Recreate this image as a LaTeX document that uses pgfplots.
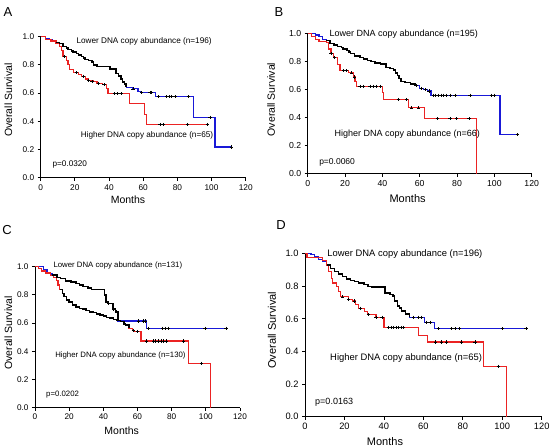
\documentclass[border=0pt]{standalone}
\usepackage{fontspec}
\setmainfont{Liberation Sans}
\usepackage{pgfplots}
\pgfplotsset{compat=1.18}
\usepackage{pgfplotstable}

\definecolor{kmblue}{RGB}{25,25,215}
\definecolor{kmred}{RGB}{235,35,35}

% ---------- Panel A ----------
\pgfplotstableread{
x y
0 1
3 0.99
5 0.98
7 0.97
9 0.96
11 0.95
13 0.93
15 0.92
16 0.91
18 0.90
19 0.89
21 0.88
22 0.87
24 0.86
25 0.85
26 0.84
28 0.83
30 0.82
31 0.80
33 0.787
40.5 0.77
44 0.74
45.5 0.72
47 0.70
48 0.68
49 0.665
50 0.64
54 0.63
57 0.61
59 0.605
67 0.574
89.3 0.428
102 0.218
112 0.218
}\Alow
\pgfplotstableread{
x y
0 1
3 0.98
6 0.97
9 0.95
11 0.93
12 0.90
13 0.86
15 0.83
16 0.80
17 0.77
19 0.745
22 0.73
24 0.72
26 0.70
28 0.69
31 0.68
33 0.67
36 0.66
38.5 0.63
39.4 0.595
52 0.525
60.7 0.45
62 0.378
97.5 0.378
}\Ahigh
\pgfplotstableread{
x y
54 0.63
59 0.605
64 0.605
65 0.605
68.8 0.574
73.8 0.574
75.3 0.574
76.7 0.574
78.6 0.574
86.4 0.574
99.1 0.428
111.8 0.218
}\Alowc
\pgfplotstableread{
x y
14 0.86
21 0.745
25 0.72
28 0.69
30 0.68
34 0.67
37 0.66
43 0.595
45 0.595
47 0.595
69.8 0.378
71.8 0.378
86 0.378
97.5 0.378
}\Ahighc

% ---------- Panel B ----------
\pgfplotstableread{
x y
0 1
4 0.99
6 0.98
8 0.96
10 0.95
12 0.93
14 0.92
16 0.91
18 0.90
19 0.89
21 0.88
22 0.87
23 0.86
25 0.84
28 0.83
30 0.82
32 0.81
34 0.80
36 0.79
39 0.785
42 0.76
44 0.75
46 0.74
47 0.72
48 0.70
49 0.68
50 0.66
52 0.65
55 0.64
57.5 0.63
60 0.61
62 0.60
64 0.59
66.1 0.56
103 0.279
112.5 0.279
}\Blow
\pgfplotstableread{
x y
0 1
2 0.98
4 0.96
6 0.945
10 0.935
11 0.89
12.5 0.86
13.7 0.83
16 0.78
17.3 0.736
21.8 0.72
24.4 0.69
25.3 0.66
26.2 0.624
40 0.58
40.5 0.53
54 0.47
62.5 0.393
90.5 0
}\Bhigh
\pgfplotstableread{
x y
58 0.63
61 0.61
63 0.60
65 0.59
67.3 0.56
68.6 0.56
70 0.56
71.4 0.56
72.7 0.56
74.5 0.56
76.3 0.56
78.9 0.56
86.9 0.56
98.6 0.56
100 0.56
112.5 0.279
}\Blowc
\pgfplotstableread{
x y
12.5 0.86
14.3 0.83
19 0.736
20.6 0.736
23.5 0.72
25 0.69
28 0.624
29.8 0.624
33.4 0.624
35.2 0.624
37 0.624
38.9 0.624
48.5 0.53
53 0.53
55.7 0.47
59.3 0.47
69.6 0.393
76.2 0.393
79.8 0.393
86.4 0.393
}\Bhighc

% ---------- Panel C ----------
\pgfplotstableread{
x y
0 1
5 0.98
7 0.953
10 0.94
13 0.925
15 0.915
18 0.90
21 0.89
24 0.88
26 0.87
28 0.86
31 0.85
33 0.84
40.8 0.80
41.5 0.75
43 0.74
45.7 0.70
47 0.68
48.6 0.615
65.4 0.563
112 0.563
}\Clow
\pgfplotstableread{
x y
0 1
2 0.985
4 0.97
6 0.955
9 0.94
11 0.925
12.5 0.90
13.5 0.87
14.5 0.84
16 0.81
17 0.79
18.5 0.765
20 0.75
22 0.73
24 0.715
26 0.705
28 0.70
30 0.69
32 0.68
34 0.674
36 0.665
38 0.657
40 0.65
42 0.641
44 0.635
46 0.627
48 0.62
50 0.61
52 0.595
53 0.587
55 0.563
57 0.55
58 0.54
62 0.473
89.8 0.315
102.5 0
}\Chigh
\pgfplotstableread{
x y
43 0.74
46 0.70
47.5 0.68
60.5 0.615
63.4 0.615
64.5 0.615
66.3 0.563
74.7 0.563
76.1 0.563
78 0.563
99.5 0.563
111.8 0.563
}\Clowc
\pgfplotstableread{
x y
57.5 0.55
60 0.54
65.4 0.473
69.3 0.473
70.7 0.473
72.2 0.473
73.8 0.473
75.1 0.473
77.1 0.473
86.8 0.473
97.6 0.315
}\Chighc

% ---------- Panel D ----------
\pgfplotstableread{
x y
0 1
3 0.995
5 0.98
7 0.965
9 0.95
11 0.93
13 0.91
15 0.89
17 0.875
19 0.86
21 0.845
23 0.835
25 0.83
27 0.82
30 0.81
32 0.80
34 0.795
40.5 0.76
43 0.75
44.5 0.74
45.5 0.71
47 0.68
48 0.667
49 0.647
51 0.63
53 0.61
60.5 0.58
65.6 0.54
112 0.54
}\Dlow
\pgfplotstableread{
x y
0 1
1 0.975
9 0.96
11 0.93
12 0.89
13.5 0.85
14 0.82
16 0.80
17 0.77
18 0.735
22 0.72
24 0.71
25.5 0.69
27 0.665
30 0.645
31.5 0.626
36 0.61
40 0.548
57.5 0.50
62 0.458
90.4 0.31
102.3 0
}\Dhigh
\pgfplotstableread{
x y
55 0.61
57.4 0.61
59.2 0.61
61.7 0.58
63.4 0.58
67.6 0.54
74.4 0.54
76 0.54
78.2 0.54
100 0.54
112 0.54
}\Dlowc
\pgfplotstableread{
x y
19 0.735
22 0.72
25 0.71
28 0.665
32 0.626
36 0.61
39 0.61
42.4 0.548
43.8 0.548
45 0.548
46.3 0.548
47.5 0.548
48.8 0.548
50 0.548
66.3 0.458
69.3 0.458
71.8 0.458
79.4 0.458
86.2 0.458
97.9 0.31
}\Dhighc

\pgfplotsset{
  km/.style={
    scale only axis, xmin=0, xmax=120, ymin=0, ymax=1,
    axis lines=left, axis line style={-, line width=0.9pt},
    xtick={0,20,40,60,80,100,120}, ytick={0,0.2,0.4,0.6,0.8,1.0},
    yticklabel style={/pgf/number format/.cd, fixed, fixed zerofill, precision=1},
    /pgf/number format/assume math mode=true,
    tick style={black, line width=0.8pt}, tick align=outside, major tick length=3pt,
    clip=false,
  },
  kmline/.style={const plot, line width=1.2pt, no marks},
  kmdense/.style={const plot, line width=1.5pt, no marks, black},
  kmcens/.style={only marks, mark=+, mark size=1.6pt, black, mark options={line width=0.7pt}},
}

\begin{document}
\begin{tikzpicture}
\useasboundingbox (0,0) rectangle (550pt,446pt);

% ===== A =====
\begin{axis}[km, at={(40.7pt,268.3pt)}, anchor=south west, width=205pt, height=141pt,
  ticklabel style={font=\fontsize{8.3}{9}\selectfont},
  xlabel={Months}, ylabel={Overall Survival},
  xlabel style={font=\fontsize{10.5}{12}\selectfont, at={(axis description cs:0.426,-0.158)}, anchor=center},
  ylabel style={font=\fontsize{10.5}{12}\selectfont, at={(axis description cs:-0.158,0.55)}, anchor=center},
]
\addplot[kmline, kmblue] table {\Alow};
\addplot[kmline, kmred] table {\Ahigh};
\addplot[kmdense, restrict x to domain=8:50] table {\Alow};
\addplot[kmcens] table {\Alowc};
\addplot[kmcens] table {\Ahighc};
\node[anchor=west, font=\fontsize{8.2}{10}\selectfont] at (axis cs:18.9,0.965) {Lower DNA copy abundance (n=196)};
\node[anchor=west, font=\fontsize{8.2}{10}\selectfont] at (axis cs:21.4,0.30) {Higher DNA copy abundance (n=65)};
\node[anchor=west, font=\fontsize{8.2}{10}\selectfont] at (axis cs:4.9,0.095) {p=0.0320};
\end{axis}

% ===== B =====
\begin{axis}[km, at={(307.7pt,272.3pt)}, anchor=south west, width=224pt, height=140pt,
  ticklabel style={font=\fontsize{8.7}{10}\selectfont},
  xlabel={Months}, ylabel={Overall Survival},
  xlabel style={font=\fontsize{11}{13}\selectfont, at={(axis description cs:0.446,-0.18)}, anchor=center},
  ylabel style={font=\fontsize{10.5}{12}\selectfont, at={(axis description cs:-0.163,0.53)}, anchor=center},
]
\addplot[kmline, kmblue] table {\Blow};
\addplot[kmline, kmred] table {\Bhigh};
\addplot[kmdense, restrict x to domain=9:58] table {\Blow};
\addplot[kmcens] table {\Blowc};
\addplot[kmcens] table {\Bhighc};
\node[anchor=west, font=\fontsize{9}{11}\selectfont] at (axis cs:9.8,1.0) {Lower DNA copy abundance (n=195)};
\node[anchor=west, font=\fontsize{9}{11}\selectfont] at (axis cs:12.5,0.284) {Higher DNA copy abundance (n=66)};
\node[anchor=west, font=\fontsize{8.5}{10}\selectfont] at (axis cs:4.3,0.084) {p=0.0060};
\end{axis}

% ===== C =====
\begin{axis}[km, at={(35pt,38.3pt)}, anchor=south west, width=205pt, height=141pt,
  ticklabel style={font=\fontsize{8.2}{9}\selectfont},
  xlabel={Months}, ylabel={Overall Survival},
  xlabel style={font=\fontsize{10.5}{12}\selectfont, at={(axis description cs:0.423,-0.163)}, anchor=center},
  ylabel style={font=\fontsize{10.5}{12}\selectfont, at={(axis description cs:-0.13,0.53)}, anchor=center},
]
\addplot[kmline, kmblue] table {\Clow};
\addplot[kmline, kmred] table {\Chigh};
\addplot[kmdense, restrict x to domain=8:48.6] table {\Clow};
\addplot[kmdense, restrict x to domain=14:55] table {\Chigh};
\addplot[kmcens] table {\Clowc};
\addplot[kmcens] table {\Chighc};
\node[anchor=west, font=\fontsize{7.8}{9}\selectfont] at (axis cs:8.8,1.01) {Lower DNA copy abundance (n=131)};
\node[anchor=west, font=\fontsize{7.8}{9}\selectfont] at (axis cs:9.8,0.37) {Higher DNA copy abundance (n=130)};
\node[anchor=west, font=\fontsize{7.8}{9}\selectfont] at (axis cs:4.5,0.095) {p=0.0202};
\end{axis}

% ===== D =====
\begin{axis}[km, at={(305pt,29.3pt)}, anchor=south west, width=236.7pt, height=163pt,
  ticklabel style={font=\fontsize{9.3}{10}\selectfont},
  xlabel={Months}, ylabel={Overall Survival},
  xlabel style={font=\fontsize{11}{13}\selectfont, at={(axis description cs:0.338,-0.15)}, anchor=center},
  ylabel style={font=\fontsize{11}{13}\selectfont, at={(axis description cs:-0.14,0.53)}, anchor=center},
]
\addplot[kmline, kmblue] table {\Dlow};
\addplot[kmline, kmred] table {\Dhigh};
\addplot[kmdense, restrict x to domain=10:53] table {\Dlow};
\addplot[kmcens] table {\Dlowc};
\addplot[kmcens] table {\Dhighc};
\node[anchor=west, font=\fontsize{9.4}{11}\selectfont] at (axis cs:9.6,1.0) {Lower DNA copy abundance (n=196)};
\node[anchor=west, font=\fontsize{9.4}{11}\selectfont] at (axis cs:11,0.36) {Higher DNA copy abundance (n=65)};
\node[anchor=west, font=\fontsize{9}{10}\selectfont] at (axis cs:3.4,0.088) {p=0.0163};
\end{axis}

% panel letters
\node[font=\fontsize{13}{15}\selectfont] at (8pt,434pt) {A};
\node[font=\fontsize{13}{15}\selectfont] at (279pt,434pt) {B};
\node[font=\fontsize{13}{15}\selectfont] at (7pt,216pt) {C};
\node[font=\fontsize{13}{15}\selectfont] at (281pt,221pt) {D};
\end{tikzpicture}
\end{document}
